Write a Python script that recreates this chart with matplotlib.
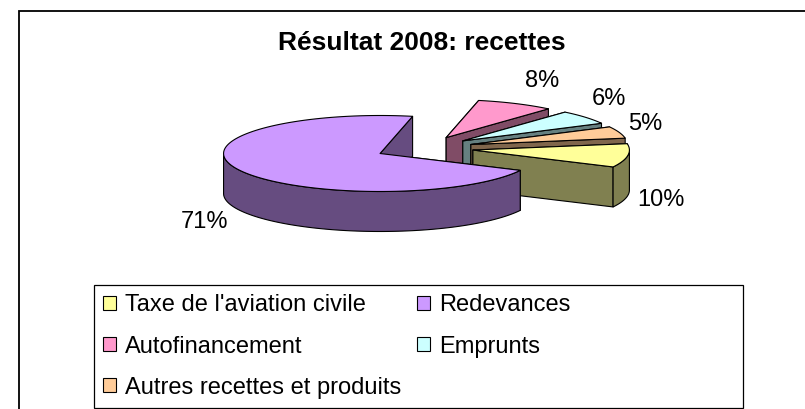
import numpy as np
import matplotlib
matplotlib.use("Agg")
import matplotlib.pyplot as plt
from matplotlib.patches import Polygon, Patch, Rectangle

plt.rcParams['font.family'] = ['Liberation Sans', 'DejaVu Sans']

# donnees
labels = ["Taxe de l'aviation civile", "Redevances", "Autofinancement", "Emprunts", "Autres recettes et produits"]
values = [10, 71, 8, 6, 5]
pct_labels = ["10%", "71%", "8%", "6%", "5%"]
top_colors = ["#FFFF99", "#CC99FF", "#FF99CC", "#CCFFFF", "#FFCC99"]
side_colors = ["#808050", "#664C80", "#804C66", "#668080", "#80664C"]
label_pos = [(661, 200), (204, 222), (542, 81), (609, 99), (645, 124)]

# geometrie du camembert, en pixels
cx, cy = 424.3, 148.3
rx, ry = 156.5, 38
depth = 40
explode = 0.314
start_angle = 9.6

fig = plt.figure(figsize=(8.05, 4.09), dpi=100)
ax = fig.add_axes([0, 0, 1, 1])
ax.set_xlim(0, 805)
ax.set_ylim(409, 0)
ax.axis('off')

# cadre du graphique : coupe a droite et en bas
ax.plot([19, 19, 805], [409, 11, 11], color='black', lw=1.3, solid_joinstyle='miter')


def arc(x0, y0, a1, a2):
    t = np.radians(np.linspace(a1, a2, 120))
    return np.column_stack([x0 + rx * np.cos(t), y0 - ry * np.sin(t)])


def draw_slice(a_hi, a_lo, top, side):
    mid = np.radians((a_hi + a_lo) / 2)
    x0 = cx + explode * rx * np.cos(mid)
    y0 = cy - explode * ry * np.sin(mid)
    style = dict(ec='black', lw=0.8, joinstyle='round')
    apex = np.array([x0, y0])
    down = np.array([0, depth])
    # faces coupees
    for a in (a_hi, a_lo):
        p = arc(x0, y0, a, a)[0]
        ax.add_patch(Polygon([apex, p, p + down, apex + down], fc=side, **style))
    # bord exterieur visible (moitie avant)
    for shift in (-360, 0):
        lo, hi = max(a_lo, 180 + shift), min(a_hi, 360 + shift)
        if hi > lo:
            rim = arc(x0, y0, lo, hi)
            ax.add_patch(Polygon(np.vstack([rim, (rim + down)[::-1]]), fc=side, **style))
    # dessus
    ax.add_patch(Polygon(np.vstack([apex, arc(x0, y0, a_hi, a_lo)]), fc=top, **style))


# angles dans le sens horaire depuis start_angle
angles = []
a = start_angle
for v in values:
    angles.append((a, a - v * 3.6))
    a -= v * 3.6

for i in [2, 3, 4, 0, 1]:
    draw_slice(angles[i][0], angles[i][1], top_colors[i], side_colors[i])

for txt, (x, y) in zip(pct_labels, label_pos):
    ax.text(x, y, txt, fontsize=17, ha='center', va='center', color='black')

ax.text(422, 43, "Résultat 2008: recettes", fontsize=19, fontweight='bold', ha='center', va='center')

# cadre de la legende
ax.add_patch(Rectangle((94, 285), 649, 123, fc='white', ec='black', lw=0.9))

# legende : remplissage par colonnes, donc on reordonne
order = [0, 2, 4, 1, 3]
handles = [Patch(fc=top_colors[i], ec='black', lw=0.8) for i in order]
leg = ax.legend(handles, [labels[i] for i in order], ncol=2, fontsize=17,
                loc='upper left', bbox_to_anchor=(94 / 805, 1 - 285 / 409),
                frameon=False, borderaxespad=0, handlelength=0.55, handleheight=0.55,
                handletextpad=0.38, labelspacing=0.81, columnspacing=0.66, borderpad=0.4)

fig.savefig("out.png", dpi=100)
